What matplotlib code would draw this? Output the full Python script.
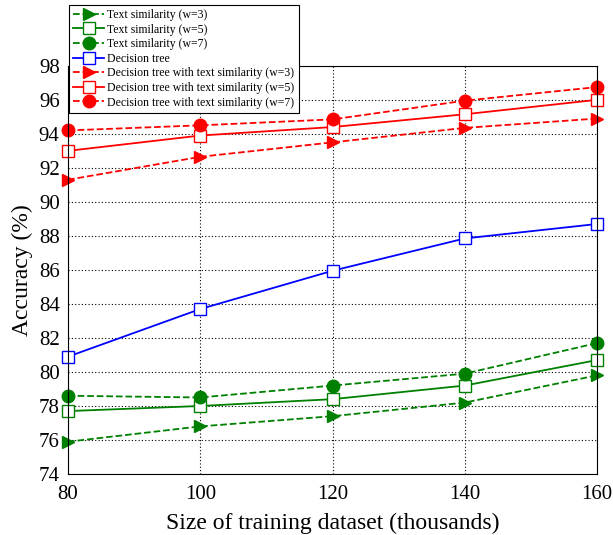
import matplotlib
matplotlib.use("Agg")
import matplotlib.pyplot as plt

plt.rcParams['font.family'] = ['Liberation Serif', 'DejaVu Serif']
plt.rcParams['mathtext.fontset'] = 'stix'

sizes = [80, 100, 120, 140, 160]
text_w3 = [75.9, 76.8, 77.4, 78.2, 79.8]
text_w5 = [77.7, 78.0, 78.4, 79.2, 80.7]
text_w7 = [78.6, 78.5, 79.2, 79.9, 81.7]
dtree = [80.9, 83.7, 85.95, 87.85, 88.7]
dt_text_w3 = [91.3, 92.65, 93.5, 94.35, 94.9]
dt_text_w5 = [93.0, 93.9, 94.4, 95.15, 96.0]
dt_text_w7 = [94.2, 94.5, 94.85, 95.95, 96.75]

labels = ["Text similarity (w=3)", "Text similarity (w=5)", "Text similarity (w=7)",
          "Decision tree", "Decision tree with text similarity (w=3)",
          "Decision tree with text similarity (w=5)",
          "Decision tree with text similarity (w=7)"]

fig = plt.figure(figsize=(6.13, 5.35), dpi=100)
ax = fig.add_axes([0.111, 0.114, 0.863, 0.763])

g = 'green'
r = 'red'
b = 'blue'
ms = 9
ax.plot(sizes, text_w3, ls='--', color=g, marker='>', ms=ms, mfc=g, mec=g, lw=1.3, label=labels[0], clip_on=False)
ax.plot(sizes, text_w5, ls='-', color=g, marker='s', ms=ms-1, mfc='white', mec=g, lw=1.3, label=labels[1], clip_on=False)
ax.plot(sizes, text_w7, ls='--', color=g, marker='o', ms=ms, mfc=g, mec=g, lw=1.3, label=labels[2], clip_on=False)
ax.plot(sizes, dtree, ls='-', color=b, marker='s', ms=ms-1, mfc='white', mec=b, lw=1.3, label=labels[3], clip_on=False)
ax.plot(sizes, dt_text_w3, ls='--', color=r, marker='>', ms=ms, mfc=r, mec=r, lw=1.3, label=labels[4], clip_on=False)
ax.plot(sizes, dt_text_w5, ls='-', color=r, marker='s', ms=ms-1, mfc='white', mec=r, lw=1.3, label=labels[5], clip_on=False)
ax.plot(sizes, dt_text_w7, ls='--', color=r, marker='o', ms=ms, mfc=r, mec=r, lw=1.3, label=labels[6], clip_on=False)

ax.set_xlim(80, 160)
ax.set_ylim(74, 98)
ax.set_xticks([80, 100, 120, 140, 160])
ax.set_yticks(range(74, 99, 2))
ax.tick_params(axis='x', direction='in', labelsize=15, length=0, pad=8)
ax.tick_params(axis='y', direction='in', labelsize=15, length=0, pad=6)
ax.grid(True, ls=(0, (1, 2)), color='black', lw=0.8)
ax.set_xlabel("Size of training dataset (thousands)", fontsize=17, labelpad=6)
ax.set_ylabel("Accuracy (%)", fontsize=17, labelpad=4)
for s in ax.spines.values():
    s.set_linewidth(0.8)

leg = fig.legend(loc='upper left', bbox_to_anchor=(0.1126, 0.991), fontsize=8.5,
                 handlelength=2.6, handletextpad=0.3, labelspacing=0.22,
                 borderpad=0.35, borderaxespad=0, fancybox=False, edgecolor='black', framealpha=1,
                 markerscale=1.0)
leg.get_frame().set_linewidth(0.8)

fig.savefig("out.png", dpi=100)
